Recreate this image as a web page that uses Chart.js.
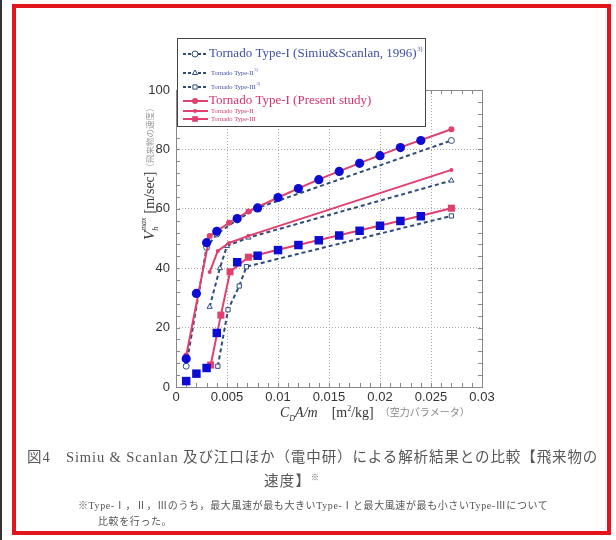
<!DOCTYPE html>
<html>
<head>
<meta charset="utf-8">
<script src="https://cdn.jsdelivr.net/npm/chart.js@4.4.0/dist/chart.umd.min.js"></script>
<style>
html, body { margin: 0; padding: 0; background: #fff; }
body { width: 616px; height: 540px; position: relative; overflow: hidden; }
#edge { position: absolute; left: 0; top: 0; width: 2px; height: 540px; background: #333; }
#frame { position: absolute; left: 12px; top: 4px; width: 599px; height: 531px; box-sizing: border-box; border: 4px solid #e3141b; }
#wrap { position: absolute; left: 0; top: 0; width: 616px; height: 540px; }
.cap { position: absolute; color: #555; font-family: "Liberation Serif", "Noto Sans CJK JP", serif; white-space: nowrap; }
</style>
</head>
<body>
<div id="edge"></div>
<div id="frame"></div>
<div id="wrap"><canvas id="chart" width="616" height="540"></canvas></div>
<div class="cap" style="left:27px; top:445px; font-size:14.5px; letter-spacing:0.9px;">図4　Simiu &amp; Scanlan 及び江口ほか（電中研）による解析結果との比較【飛来物の</div>
<div class="cap" style="left:264px; top:469px; font-size:14.5px; letter-spacing:1.2px;">速度】<sup style="font-size:8px;">※</sup></div>
<div class="cap" style="left:78px; top:497px; font-size:10px; letter-spacing:0.6px;">※Type-Ⅰ，Ⅱ，Ⅲのうち，最大風速が最も大きいType-Ⅰと最大風速が最も小さいType-Ⅲについて</div>
<div class="cap" style="left:98px; top:513px; font-size:10px; letter-spacing:0.6px;">比較を行った。</div>

<script>
// axis ticks
const xTickLabels = ['0', '0.005', '0.01', '0.015', '0.02', '0.025', '0.03'];
const yTickLabels = ['0', '20', '40', '60', '80', '100'];

// blue markers (no line)
const blueCircleX = [0.001, 0.002, 0.003, 0.004, 0.006, 0.008, 0.010, 0.012, 0.014, 0.016, 0.018, 0.020, 0.022, 0.024];
const blueCircleY = [9.5, 31.5, 48.6, 52.4, 56.7, 60.3, 63.8, 66.8, 69.8, 72.6, 75.3, 77.9, 80.6, 83.0];
const blueSquareX = [0.001, 0.002, 0.003, 0.004, 0.006, 0.008, 0.010, 0.012, 0.014, 0.016, 0.018, 0.020, 0.022, 0.024];
const blueSquareY = [2.0, 4.5, 6.4, 18.2, 42.0, 44.2, 46.1, 47.8, 49.4, 51.0, 52.6, 54.3, 55.9, 57.5];

// present study (red solid)
const presentX1 = [0.001, 0.0033, 0.0052, 0.0071, 0.010, 0.014, 0.018, 0.022, 0.027];
const presentY1 = [10.5, 50.8, 55.3, 59.1, 63.8, 69.9, 75.4, 80.7, 86.8];
const presentX2 = [0.0033, 0.0041, 0.0052, 0.0071, 0.027];
const presentY2 = [38.7, 45.8, 48.5, 50.9, 73.1];
const presentX3 = [0.0034, 0.0044, 0.0053, 0.0071, 0.010, 0.016, 0.022, 0.027];
const presentY3 = [7.4, 24.2, 38.8, 43.7, 46.2, 51.1, 56.0, 60.2];

// Simiu & Scanlan (dashed)
const simiuX1 = [0.001, 0.003, 0.004, 0.006, 0.008, 0.027];
const simiuY1 = [7.0, 47.0, 51.5, 56.3, 60.3, 83.0];
const simiuX2 = [0.0033, 0.0043, 0.005, 0.0071, 0.027];
const simiuY2 = [27.0, 40.0, 47.5, 50.3, 69.5];
const simiuX3 = [0.0041, 0.0051, 0.0062, 0.0069, 0.027];
const simiuY3 = [7.0, 26.0, 34.0, 40.5, 57.6];

const legendLabels = ['Tornado Type-I (Simiu&Scanlan, 1996)', 'Tornado Type-II', 'Tornado Type-III',
    'Tornado Type-I (Present study)', 'Tornado Type-II', 'Tornado Type-III'];

const BLUE = '#0c0cd2';
const RED = '#e0406e';
const DASH = '#2d4c7c';

function pts(xs, ys) {
    return xs.map(function(x, i) { return { x: x, y: ys[i] }; });
}

function dashed(label, xs, ys, style) {
    return {
        label: label, data: pts(xs, ys), showLine: true, order: 3,
        borderColor: DASH, borderWidth: 2, borderDash: [4, 3],
        pointStyle: style, pointRadius: 3, pointBackgroundColor: '#fff',
        pointBorderColor: DASH, pointBorderWidth: 1
    };
}

function solid(label, xs, ys, style, r) {
    return {
        label: label, data: pts(xs, ys), showLine: true, order: 2,
        borderColor: RED, borderWidth: 2,
        pointStyle: style, pointRadius: r, pointBackgroundColor: RED,
        pointBorderColor: RED, pointBorderWidth: 0
    };
}

// frame, minor ticks, axis titles and legend box
const decor = {
    id: 'decor',
    beforeDatasetsDraw(chart) {
        const a = chart.chartArea, ctx = chart.ctx;
        const xs = chart.scales.x, ys = chart.scales.y;
        ctx.save();
        ctx.strokeStyle = '#888';
        ctx.lineWidth = 1;
        ctx.strokeRect(a.left + 0.5, a.top + 0.5, a.right - a.left, a.bottom - a.top);
        ctx.beginPath();
        for (let v = 0; v <= 30; v++) {
            const px = Math.round(xs.getPixelForValue(v / 1000)) + 0.5;
            ctx.moveTo(px, a.bottom); ctx.lineTo(px, a.bottom - 4);
            ctx.moveTo(px, a.top); ctx.lineTo(px, a.top + 4);
        }
        for (let v = 0; v <= 100; v += 4) {
            const py = Math.round(ys.getPixelForValue(v)) + 0.5;
            ctx.moveTo(a.left, py); ctx.lineTo(a.left + 4, py);
            ctx.moveTo(a.right, py); ctx.lineTo(a.right - 4, py);
        }
        ctx.stroke();
        ctx.restore();
    },
    afterDraw(chart) {
        const a = chart.chartArea, ctx = chart.ctx;
        ctx.save();
        ctx.textBaseline = 'alphabetic';

        // y title (rotated)
        ctx.translate(a.left - 22, a.bottom - 147);
        ctx.rotate(-Math.PI / 2);
        let p = 0;
        ctx.fillStyle = '#333';
        ctx.font = 'italic 15px "Liberation Serif"';
        ctx.fillText('V', p, 0); p += ctx.measureText('V').width;
        ctx.font = 'italic 8px "Liberation Serif"';
        ctx.fillText('h', p, 4);
        ctx.fillText('max', p, -8); p += ctx.measureText('max').width + 4;
        ctx.font = '14px "Liberation Serif"';
        ctx.fillText('[m/sec]', p, 0); p += ctx.measureText('[m/sec]').width;
        ctx.fillStyle = '#999';
        ctx.font = '8.5px "Noto Sans CJK JP"';
        ctx.fillText('（飛来物の速度）', p, -1);
        ctx.setTransform(1, 0, 0, 1, 0, 0);

        // x title
        let q = a.left + 104;
        const by = a.bottom + 30;
        ctx.fillStyle = '#333';
        ctx.font = 'italic 14px "Liberation Serif"';
        ctx.fillText('C', q, by); q += ctx.measureText('C').width;
        ctx.font = 'italic 8px "Liberation Serif"';
        ctx.fillText('D', q, by + 4); q += ctx.measureText('D').width;
        ctx.font = 'italic 14px "Liberation Serif"';
        ctx.fillText('A/m', q, by); q += ctx.measureText('A/m').width + 14;
        ctx.font = '14px "Liberation Serif"';
        ctx.fillText('[m', q, by); q += ctx.measureText('[m').width;
        ctx.font = '8px "Liberation Serif"';
        ctx.fillText('2', q, by - 6); q += ctx.measureText('2').width;
        ctx.font = '14px "Liberation Serif"';
        ctx.fillText('/kg]', q, by); q += ctx.measureText('/kg]').width + 6;
        ctx.fillStyle = '#888';
        ctx.font = '10px "Noto Sans CJK JP"';
        ctx.fillText('（空力パラメータ）', q, by - 1);

        // legend box
        const bx = a.left + 1, bt = a.top - 52, bw = 248, bh = 88;
        ctx.fillStyle = '#fff';
        ctx.fillRect(bx, bt, bw, bh);
        ctx.strokeStyle = '#444';
        ctx.lineWidth = 1;
        ctx.strokeRect(bx + 0.5, bt + 0.5, bw, bh);

        const rowY = [16, 35, 49, 63, 73, 81];
        const rowSize = [13, 6.5, 6.5, 13, 6.5, 6.5];
        const rowSup = ['3)', '3)', '3)', '', '', ''];
        const styles = ['circle', 'triangle', 'rect', 'circle', 'circle', 'rect'];
        const radii = [3, 3, 3, 3, 2, 4];
        for (let i = 0; i < 6; i++) {
            const y = bt + rowY[i];
            const sim = i < 3;
            ctx.save();
            ctx.strokeStyle = sim ? DASH : RED;
            ctx.lineWidth = 2;
            ctx.setLineDash(sim ? [3, 2] : []);
            ctx.beginPath();
            ctx.moveTo(bx + 6, y); ctx.lineTo(bx + 31, y);
            ctx.stroke();
            ctx.setLineDash([]);
            ctx.lineWidth = 1;
            ctx.fillStyle = sim ? '#fff' : RED;
            Chart.helpers.drawPoint(ctx, { pointStyle: styles[i], radius: radii[i], rotation: 0, borderWidth: sim ? 1 : 0 }, bx + 18, y);
            ctx.restore();

            ctx.fillStyle = sim ? '#3f4fa6' : '#d4336c';
            ctx.font = rowSize[i] + 'px "Liberation Serif"';
            ctx.textBaseline = 'middle';
            const tx = bx + (rowSize[i] > 10 ? 32 : 34);
            ctx.fillText(legendLabels[i], tx, y);
            if (rowSup[i]) {
                const w = ctx.measureText(legendLabels[i]).width;
                ctx.font = (rowSize[i] > 10 ? 6 : 4) + 'px "Liberation Serif"';
                ctx.fillText(rowSup[i], tx + w + 1, y - (rowSize[i] > 10 ? 5 : 3));
            }
        }
        ctx.restore();
    }
};

new Chart(document.getElementById('chart').getContext('2d'), {
    type: 'scatter',
    data: {
        datasets: [
            {
                label: 'circles', data: pts(blueCircleX, blueCircleY), showLine: false, order: 0,
                pointStyle: 'circle', pointRadius: 4.6, pointBackgroundColor: BLUE, pointBorderColor: BLUE, pointBorderWidth: 0
            },
            {
                label: 'squares', data: pts(blueSquareX, blueSquareY), showLine: false, order: 0,
                pointStyle: 'rect', pointRadius: 6, pointBackgroundColor: BLUE, pointBorderColor: BLUE, pointBorderWidth: 0
            },
            solid(legendLabels[3], presentX1, presentY1, 'circle', 3),
            solid(legendLabels[4], presentX2, presentY2, 'circle', 2),
            solid(legendLabels[5], presentX3, presentY3, 'rect', 5),
            dashed(legendLabels[0], simiuX1, simiuY1, 'circle'),
            dashed(legendLabels[1], simiuX2, simiuY2, 'triangle'),
            dashed(legendLabels[2], simiuX3, simiuY3, 'rect')
        ]
    },
    options: {
        responsive: false,
        animation: false,
        events: [],
        layout: { padding: { left: 136, right: 134, top: 90, bottom: 123 } },
        plugins: { legend: { display: false }, tooltip: { enabled: false } },
        elements: { line: { tension: 0 } },
        scales: {
            x: {
                type: 'linear', min: 0, max: 0.03,
                afterFit: function(s) { s.height = 30; },
                grid: { color: '#aaa', drawTicks: false },
                border: { display: false, dash: [1, 2] },
                ticks: {
                    stepSize: 0.005, padding: 3, color: '#333', maxRotation: 0,
                    font: { family: 'Liberation Sans', size: 13 },
                    callback: function(v) { return xTickLabels[Math.round(v / 0.005)]; }
                }
            },
            y: {
                type: 'linear', min: 0, max: 100,
                afterFit: function(s) { s.width = 40; },
                grid: { color: '#aaa', drawTicks: false },
                border: { display: false, dash: [1, 2] },
                ticks: {
                    stepSize: 20, padding: 6, color: '#333',
                    font: { family: 'Liberation Sans', size: 13 },
                    callback: function(v) { return yTickLabels[Math.round(v / 20)]; }
                }
            }
        }
    },
    plugins: [decor]
});
</script>
</body>
</html>
